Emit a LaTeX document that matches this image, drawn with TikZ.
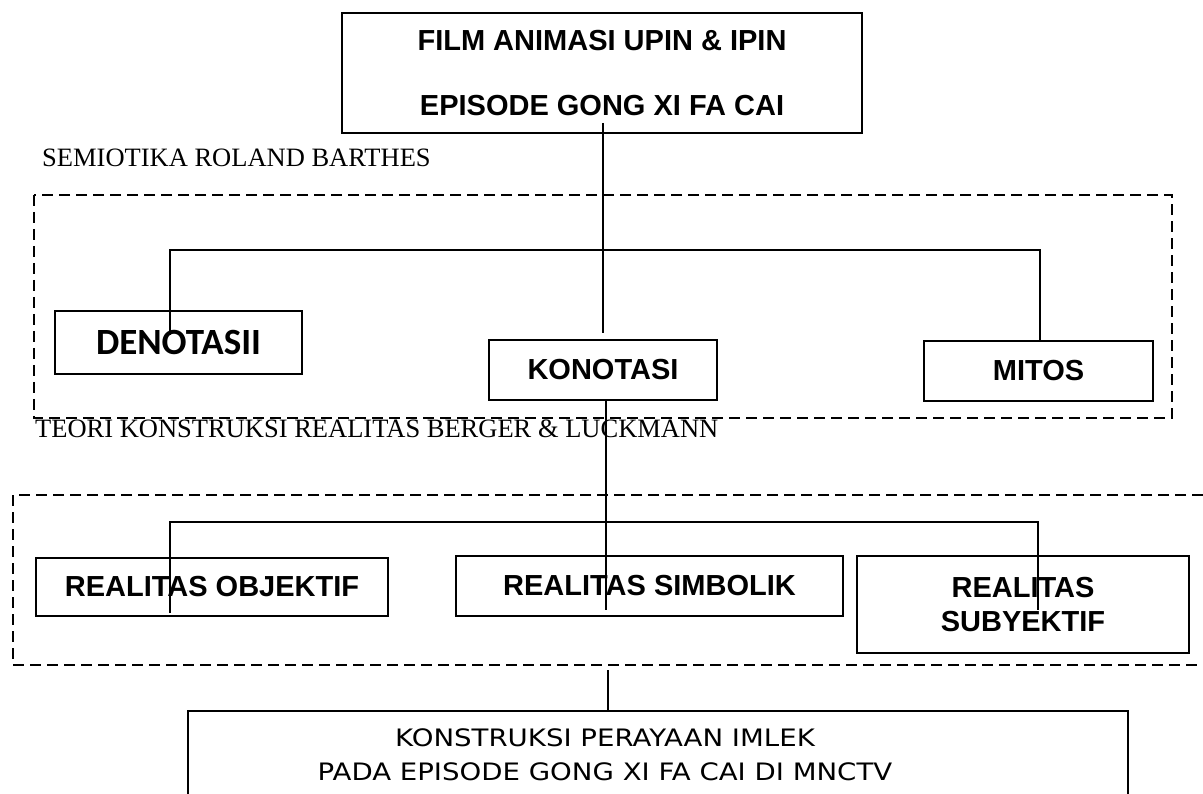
\documentclass[tikz,border=0pt]{standalone}
\usepackage{fontspec}
\setmainfont{Liberation Serif}
\newfontfamily\arialf{Liberation Sans}
\newfontfamily\calibf{Carlito}
\newfontfamily\tahf[FakeStretch=1.15]{DejaVu Sans}
\begin{document}
\begin{tikzpicture}[x=1pt,y=-1pt,
  box/.style={draw=black, line width=1.6pt, rectangle, inner sep=0pt, align=center},
  hd/.style={font=\arialf\bfseries\fontsize{29}{34}\selectfont},
  seclabel/.style={font=\fontsize{26.5}{30}\selectfont, inner sep=0pt, anchor=base west},
  conn/.style={draw=black, line width=2.8pt},
  grp/.style={draw=black, line width=2.8pt, dash pattern=on 11pt off 6pt}]
\useasboundingbox (0,0) rectangle (1203,794);

% top box
\node[box, minimum width=520pt, minimum height=120pt,
      font=\arialf\bfseries\fontsize{29}{65}\selectfont] (film) at (602,73)
  {FILM ANIMASI UPIN \& IPIN\\EPISODE GONG XI FA CAI};

\node[seclabel] (semio) at (42,167) {SEMIOTIKA ROLAND BARTHES};

% group 1
\draw[grp] (34,195) rectangle (1172,418);

\node[box, minimum width=247pt, minimum height=63pt,
      font=\calibf\bfseries\fontsize{37}{40}\selectfont] (deno) at (178.5,342.5) {DENOTASII};
\node[box, hd, minimum width=228pt, minimum height=60pt] (kono) at (603,370) {KONOTASI};
\node[box, hd, minimum width=229pt, minimum height=60pt] (mitos) at (1038.5,371) {MITOS};

\coordinate (f1) at (603,123);
\coordinate (k1) at (603,333);
\coordinate (h1l) at (170,250);
\coordinate (h1r) at (1040,250);
\coordinate (d1) at (170,335);
\draw[conn] (f1) -- (k1);
\draw[conn] (d1) -- (h1l) -- (h1r) -- (h1r |- mitos.north);

\node[seclabel] (teori) at (35,438) {TEORI KONSTRUKSI REALITAS BERGER \& LUCKMANN};

% group 2
\draw[grp] (13,495) rectangle (1220,665);

\node[box, hd, minimum width=352pt, minimum height=58pt] (obj) at (212,587) {REALITAS OBJEKTIF};
\node[box, hd, minimum width=387pt, minimum height=60pt] (sim) at (649.5,586) {REALITAS SIMBOLIK};
\node[box, minimum width=332pt, minimum height=97pt,
      font=\arialf\bfseries\fontsize{29}{34}\selectfont] (sub) at (1023,604.5) {REALITAS\\SUBYEKTIF};

\coordinate (k2) at (606,400);
\coordinate (s2) at (606,610);
\coordinate (h2l) at (170,522);
\coordinate (h2r) at (1038,522);
\coordinate (o2) at (170,613);
\coordinate (u2) at (1038,610);
\draw[conn] (k2) -- (s2);
\draw[conn] (o2) -- (h2l) -- (h2r) -- (u2);

% result
\node[box, minimum width=940pt, minimum height=88pt,
      label={[xshift=-53pt, font=\tahf\fontsize{24}{34}\selectfont, align=center]center:{KONSTRUKSI PERAYAAN IMLEK\\PADA EPISODE GONG XI FA CAI DI MNCTV}}]
      (res) at (658,755) {};
\coordinate (g2) at (608,670);
\draw[conn] (g2) -- (g2 |- res.north);
\end{tikzpicture}
\end{document}
